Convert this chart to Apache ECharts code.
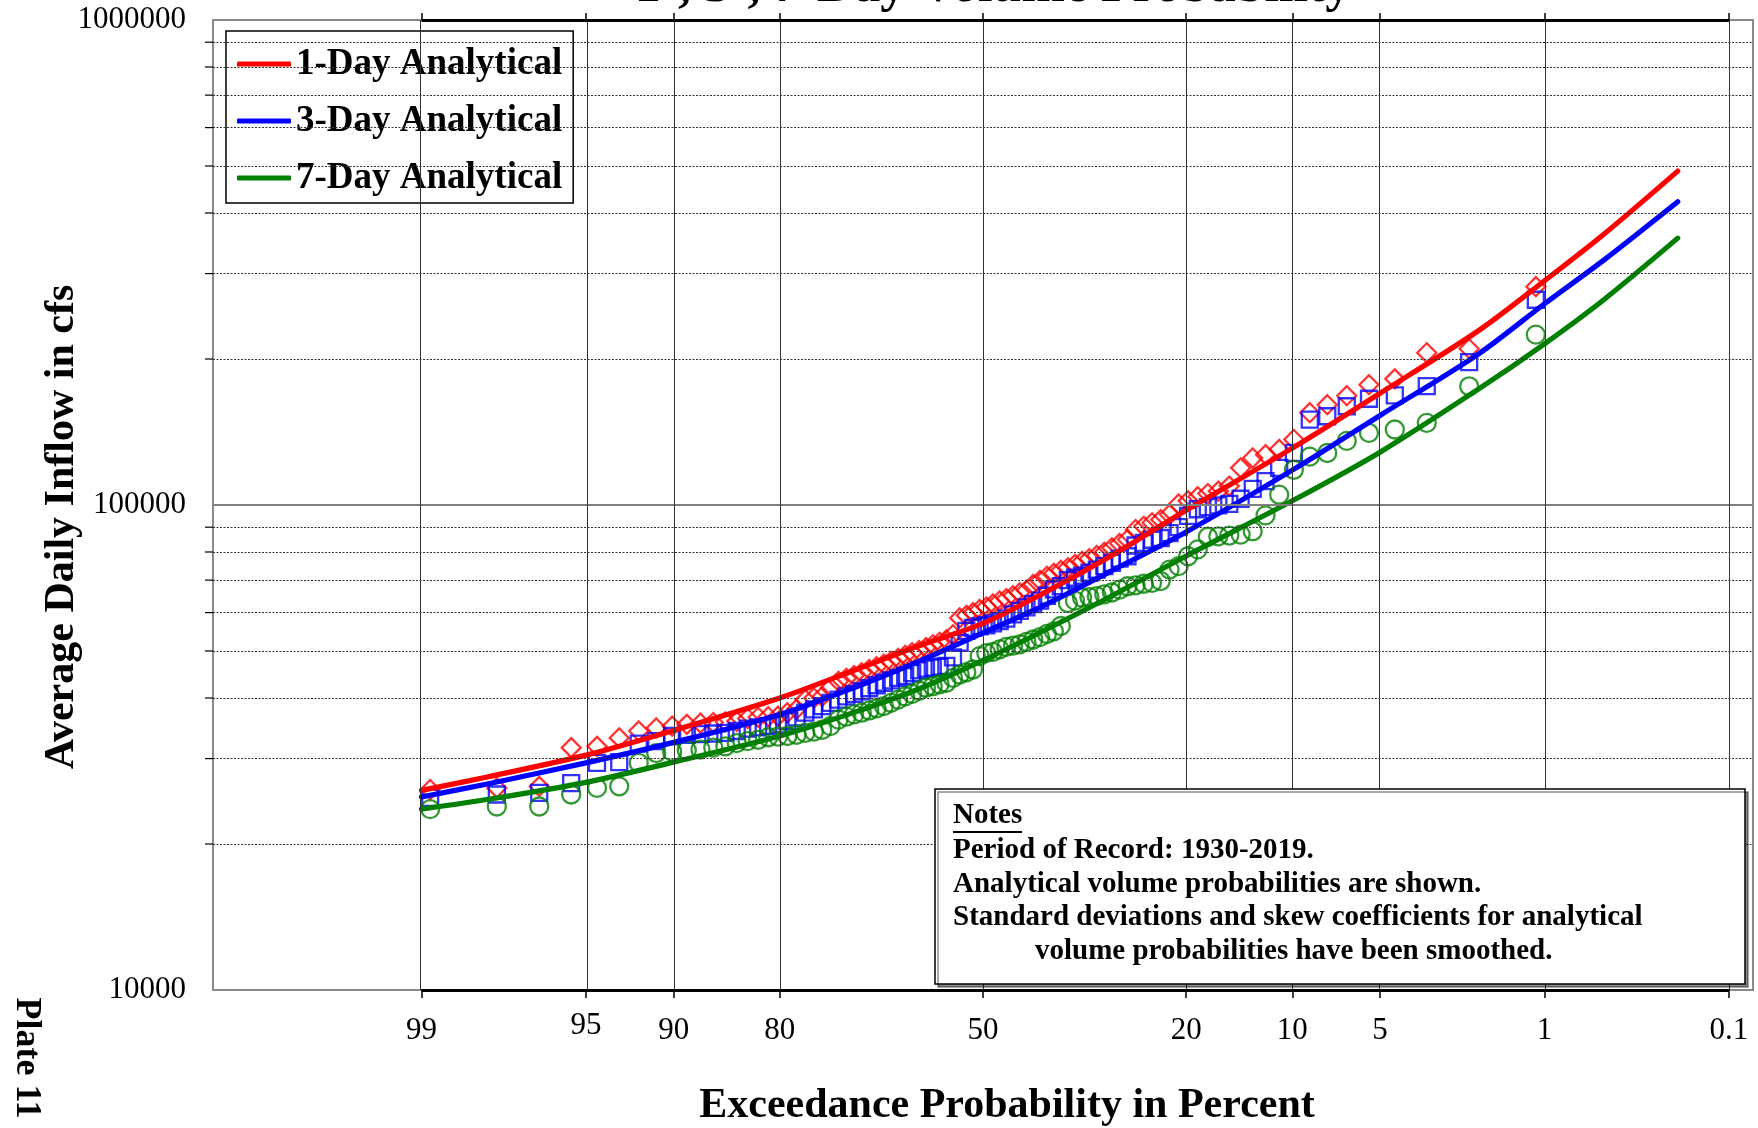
<!DOCTYPE html>
<html><head><meta charset="utf-8">
<script src="https://cdn.jsdelivr.net/npm/echarts@6/dist/echarts.min.js"></script>
<style>html,body{margin:0;padding:0;background:#fff}#chart{width:1758px;height:1128px}</style>
</head><body><div id="chart"></div>
<script>
// ---------------- data ----------------
const tickProbs = [99, 95, 90, 80, 50, 20, 10, 5, 1, 0.1];
const exceedPct = [
  1.10, 2.20, 3.30, 4.40, 5.49, 6.59, 7.69, 8.79, 9.89, 10.99,
  12.09, 13.19, 14.29, 15.38, 16.48, 17.58, 18.68, 19.78, 20.88, 21.98,
  23.08, 24.18, 25.27, 26.37, 27.47, 28.57, 29.67, 30.77, 31.87, 32.97,
  34.07, 35.16, 36.26, 37.36, 38.46, 39.56, 40.66, 41.76, 42.86, 43.96,
  45.05, 46.15, 47.25, 48.35, 49.45, 50.55, 51.65, 52.75, 53.85, 54.95,
  56.04, 57.14, 58.24, 59.34, 60.44, 61.54, 62.64, 63.74, 64.84, 65.93,
  67.03, 68.13, 69.23, 70.33, 71.43, 72.53, 73.63, 74.73, 75.82, 76.92,
  78.02, 79.12, 80.22, 81.32, 82.42, 83.52, 84.62, 85.71, 86.81, 87.91,
  89.01, 90.11, 91.21, 92.31, 93.41, 94.51, 95.60, 96.70, 97.80, 98.90
];
const obs1Day = [
  282000, 210000, 206000, 182000, 177000, 168000, 161000, 155000, 136500, 130200,
  127000, 125000, 119300, 109400, 106800, 105600, 104000, 102000, 100500, 95600,
  93300, 91900, 90400, 89000, 84900, 83300, 81600, 79900, 78700, 77500,
  76500, 75400, 74200, 73300, 72300, 71300, 69900, 68600, 66700, 65900,
  65000, 64100, 63400, 62500, 61600, 60900, 60000, 59200, 58500, 54000,
  52700, 52100, 51500, 50800, 50100, 49600, 49000, 48300, 47600, 47000,
  46400, 45800, 45100, 44500, 43900, 43300, 42000, 40300, 40000, 39700,
  37900, 37300, 36700, 36600, 36500, 36300, 35800, 35700, 35600, 35500,
  35300, 35000, 34700, 34200, 33100, 31800, 31600, 26300, 26100, 25900
];
const obs3Day = [
  265000, 197000, 175800, 168200, 165600, 159800, 152400, 150000, 128100, 119300,
  112000, 108000, 103000, 100500, 99800, 99000, 98000, 95000, 90000, 87500,
  85500, 84800, 83500, 82500, 78400, 77500, 76000, 74800, 73600, 72500,
  71500, 70800, 70000, 68000, 67000, 65000, 63500, 62500, 61500, 60500,
  59500, 58300, 57600, 57000, 56500, 56200, 55800, 55000, 52000, 48500,
  46600, 46400, 46200, 46000, 45600, 45000, 44400, 44000, 43500, 43000,
  42500, 41900, 41300, 40800, 40300, 39700, 39100, 38500, 37900, 37300,
  36500, 35900, 35300, 35000, 34800, 34600, 34200, 33900, 33800, 33700,
  33600, 33400, 32600, 32200, 29500, 29400, 26700, 25500, 25300, 24900
];
const obs7Day = [
  224500, 175700, 147700, 143100, 140800, 135600, 128000, 125800, 118200, 105000,
  95200, 88300, 86900, 86500, 86200, 86000, 81000, 78400, 74800, 73600,
  69700, 69100, 68800, 68300, 68000, 66900, 66000, 65400, 64900, 64600,
  64400, 63500, 62800, 56300, 54900, 54200, 53400, 52800, 52200, 51600,
  51300, 51000, 50400, 49800, 49500, 48800, 45800, 45200, 44700, 44000,
  43000, 42700, 42300, 42000, 41400, 40800, 40300, 39700, 39100, 38500,
  38100, 37700, 37300, 37000, 36600, 36100, 35000, 34400, 34100, 33900,
  33600, 33400, 33300, 33200, 32800, 32600, 32300, 31800, 31600, 31300,
  31200, 31000, 30800, 29400, 26300, 26100, 25300, 23900, 23900, 23600
];
const curveProb = [99, 98, 95, 90, 80, 70, 60, 50, 40, 30, 20, 10, 5, 2, 1, 0.5, 0.2];
const curve1Day = [25800, 27500, 30500, 34300, 40000, 45800, 51500, 57000, 65900, 78200, 97500, 131000, 170000, 229000, 290000, 363000, 488000];
const curve3Day = [25000, 26600, 29400, 32400, 37000, 42200, 47900, 54500, 62100, 72800, 88000, 118000, 153000, 205000, 260000, 321000, 422000];
const curve7Day = [23600, 24700, 26800, 29500, 33400, 37500, 42000, 47800, 55100, 64600, 78500, 102000, 128500, 173500, 215000, 266000, 355000];
const yMinorGrid = [20000, 30000, 40000, 50000, 60000, 70000, 80000, 90000,
                    200000, 300000, 400000, 500000, 600000, 700000, 800000, 900000];
const yMajorGrid = [100000];
const seriesNames = ['1-Day Analytical', '3-Day Analytical', '7-Day Analytical'];
const titleText = '1-, 3-, 7-Day Volume Probability';
const xName = 'Exceedance Probability in Percent';
const yName = 'Average Daily Inflow in cfs';
const notesLines = [
  'Period of Record: 1930-2019.',
  'Analytical volume probabilities are shown.',
  'Standard deviations and skew coefficients for analytical',
  'volume probabilities have been smoothed.'
];

// ---------------- normal-probability scale ----------------
function normInv(p) {
  const a = [-3.969683028665376e+01, 2.209460984245205e+02, -2.759285104469687e+02, 1.383577518672690e+02, -3.066479806614716e+01, 2.506628277459239e+00];
  const b = [-5.447609879822406e+01, 1.615858368580409e+02, -1.556989798598866e+02, 6.680131188771972e+01, -1.328068155288572e+01];
  const c = [-7.784894002430293e-03, -3.223964580411365e-01, -2.400758277161838e+00, -2.549732539343734e+00, 4.374664141464968e+00, 2.938163982698783e+00];
  const d = [7.784695709041462e-03, 3.224671290700398e-01, 2.445134137142996e+00, 3.754408661907416e+00];
  const pl = 0.02425, ph = 1 - pl;
  let q, r;
  if (p < pl) {
    q = Math.sqrt(-2 * Math.log(p));
    return (((((c[0]*q+c[1])*q+c[2])*q+c[3])*q+c[4])*q+c[5]) / ((((d[0]*q+d[1])*q+d[2])*q+d[3])*q+1);
  }
  if (p <= ph) {
    q = p - 0.5; r = q * q;
    return (((((a[0]*r+a[1])*r+a[2])*r+a[3])*r+a[4])*r+a[5])*q / (((((b[0]*r+b[1])*r+b[2])*r+b[3])*r+b[4])*r+1);
  }
  q = Math.sqrt(-2 * Math.log(1 - p));
  return -(((((c[0]*q+c[1])*q+c[2])*q+c[3])*q+c[4])*q+c[5]) / ((((d[0]*q+d[1])*q+d[2])*q+d[3])*q+1);
}
const probToZ = pct => normInv(1 - pct / 100);
const tickZ = tickProbs.map(probToZ);
const X_MIN = -3.19, X_MAX = 3.19;

const FONT = '"Liberation Serif", "Times New Roman", serif';
const RED = '#ff0000', BLUE = '#0000ff', GREEN = '#008000';

function pairs(ps, vs) { return ps.map((p, i) => [probToZ(p), vs[i]]); }
function tickLabel(v) {
  let best = 0;
  for (let i = 1; i < tickZ.length; i++) if (Math.abs(tickZ[i] - v) < Math.abs(tickZ[best] - v)) best = i;
  const lab = tickProbs[best];
  return lab === 95 ? '{up|95}' : String(lab);
}

function scatterSeries(name, vals, symbol, size, color) {
  return {
    type: 'scatter', name, data: pairs(exceedPct, vals), symbol, symbolSize: size,
    itemStyle: { color: 'rgba(0,0,0,0)', borderColor: color, borderWidth: 2.3 },
    z: 3, silent: true
  };
}
function curveSeries(name, vals, color) {
  return {
    type: 'line', name, data: pairs(curveProb, vals), showSymbol: false, symbol: 'none',
    smooth: 0.3, color,
    itemStyle: { color },
    lineStyle: { color, width: 5.2, cap: 'round', join: 'round' },
    z: 4, silent: true
  };
}

const gridLines = [];
yMinorGrid.forEach(v => gridLines.push({ yAxis: v, lineStyle: { color: '#333', width: 1, type: [2, 1.5] } }));
yMajorGrid.forEach(v => gridLines.push({ yAxis: v, lineStyle: { color: '#7f7f7f', width: 2, type: 'solid' } }));
tickZ.forEach(z => gridLines.push({ xAxis: z, lineStyle: { color: '#333', width: 1, type: 'solid' } }));
gridLines.push([{ coord: [tickZ[0], 1000000], lineStyle: { color: '#000', width: 3.2, type: 'solid' } }, { coord: [tickZ[tickZ.length - 1], 1000000] }]);
gridLines.push([{ coord: [tickZ[0], 10000], lineStyle: { color: '#000', width: 3.2, type: 'solid' } }, { coord: [tickZ[tickZ.length - 1], 10000] }]);

const chart = echarts.init(document.getElementById('chart'), null, { renderer: 'canvas' });
const option = {
  animation: false,
  backgroundColor: '#fff',
  grid: { left: 213, right: 5, top: 20, bottom: 138, show: true, borderColor: '#8a8a8a', borderWidth: 2, backgroundColor: 'transparent' },
  legend: {
    data: seriesNames, orient: 'vertical', left: 226, top: 31,
    backgroundColor: '#fff', borderColor: '#000', borderWidth: 1.5,
    padding: [13, 11, 5, 11], itemGap: 17, itemWidth: 54, itemHeight: 5, itemTextGap: 4,
    icon: 'roundRect',
    textStyle: { fontFamily: FONT, fontWeight: 'bold', fontSize: 37, color: '#000', lineHeight: 40 },
    selectedMode: false
  },
  xAxis: [{
    type: 'value', min: X_MIN, max: X_MAX, position: 'bottom',
    axisLine: { show: false },
    axisTick: { show: true, customValues: tickZ, length: 8, inside: false, lineStyle: { color: '#000', width: 1.5 } },
    axisLabel: {
      customValues: tickZ, formatter: tickLabel, margin: 25,
      fontFamily: FONT, fontSize: 31, color: '#000',
      rich: { up: { fontFamily: FONT, fontSize: 31, color: '#000', lineHeight: 21 } }
    },
    splitLine: { show: false }
  }, {
    type: 'value', min: X_MIN, max: X_MAX, position: 'top',
    axisLine: { show: false },
    axisTick: { show: true, customValues: tickZ, length: 7, inside: false, lineStyle: { color: '#000', width: 1.5 } },
    axisLabel: { show: false },
    splitLine: { show: false }
  }],
  yAxis: {
    type: 'log', logBase: 10, min: 10000, max: 1000000,
    axisLine: { show: false },
    axisTick: { show: true, length: 8, lineStyle: { color: '#000', width: 2 } },
    axisLabel: { formatter: v => String(Math.round(v)), margin: 27, fontFamily: FONT, fontSize: 31, color: '#000' },
    splitLine: { show: false },
    minorTick: { show: false }, minorSplitLine: { show: false }
  },
  series: [
    {
      type: 'line', name: 'grid', data: [[0, 100000]], symbol: 'none', showSymbol: false,
      lineStyle: { opacity: 0 }, clip: false, z: 1, silent: true,
      markLine: { silent: true, symbol: ['none', 'none'], label: { show: false }, animation: false, data: gridLines }
    },
    scatterSeries('1-Day Observed', obs1Day, 'diamond', 19, RED),
    scatterSeries('3-Day Observed', obs3Day, 'rect', 16, BLUE),
    scatterSeries('7-Day Observed', obs7Day, 'circle', 18, GREEN),
    curveSeries(seriesNames[0], curve1Day, RED),
    curveSeries(seriesNames[1], curve3Day, BLUE),
    curveSeries(seriesNames[2], curve7Day, GREEN)
  ]
};
chart.setOption(option);

// ---------------- graphics (computed via the axes) ----------------
const left = chart.convertToPixel({ xAxisIndex: 0 }, X_MIN);
const g = [];
yMinorGrid.forEach(v => {
  const y = chart.convertToPixel({ yAxisIndex: 0 }, v);
  g.push({ type: 'line', shape: { x1: left - 8, y1: y, x2: left, y2: y }, style: { stroke: '#000', lineWidth: 1.2 }, z: 50, silent: true });
});
function txt(text, x, y, size, opts) {
  opts = opts || {};
  return {
    type: 'text', x, y, rotation: opts.rotation || 0, z: opts.z || 101, silent: true,
    style: {
      text, fill: '#000',
      font: 'bold ' + size + 'px ' + FONT,
      align: opts.align || 'center', textAlign: opts.align || 'center',
      verticalAlign: 'middle', textVerticalAlign: 'middle'
    }
  };
}
g.push(txt(titleText, 993, -12, 52));
g.push(txt(xName, 1007, 1106, 42));
g.push(txt(yName, 62, 527, 42, { rotation: Math.PI / 2 }));
g.push(txt('Plate 11', 26, 1058, 36, { rotation: -Math.PI / 2 }));
g.push({
  type: 'rect', z: 100, silent: true,
  shape: { x: 935, y: 789, width: 810, height: 195 },
  style: { fill: '#fff', stroke: '#000', lineWidth: 1.5, shadowColor: 'rgba(0,0,0,0.45)', shadowOffsetX: 3, shadowOffsetY: 3, shadowBlur: 0 }
});
g.push(txt('Notes', 953, 816, 29, { align: 'left' }));
g.push({ type: 'line', z: 101, silent: true, shape: { x1: 953, y1: 832, x2: 1022, y2: 832 }, style: { stroke: '#000', lineWidth: 2 } });
g.push(txt(notesLines[0], 953, 851, 29, { align: 'left' }));
g.push(txt(notesLines[1], 953, 885, 29, { align: 'left' }));
g.push(txt(notesLines[2], 953, 918, 29, { align: 'left' }));
g.push(txt(notesLines[3], 1035, 952, 29, { align: 'left' }));
chart.setOption({ graphic: [{ elements: g }] });
</script>
</body></html>
